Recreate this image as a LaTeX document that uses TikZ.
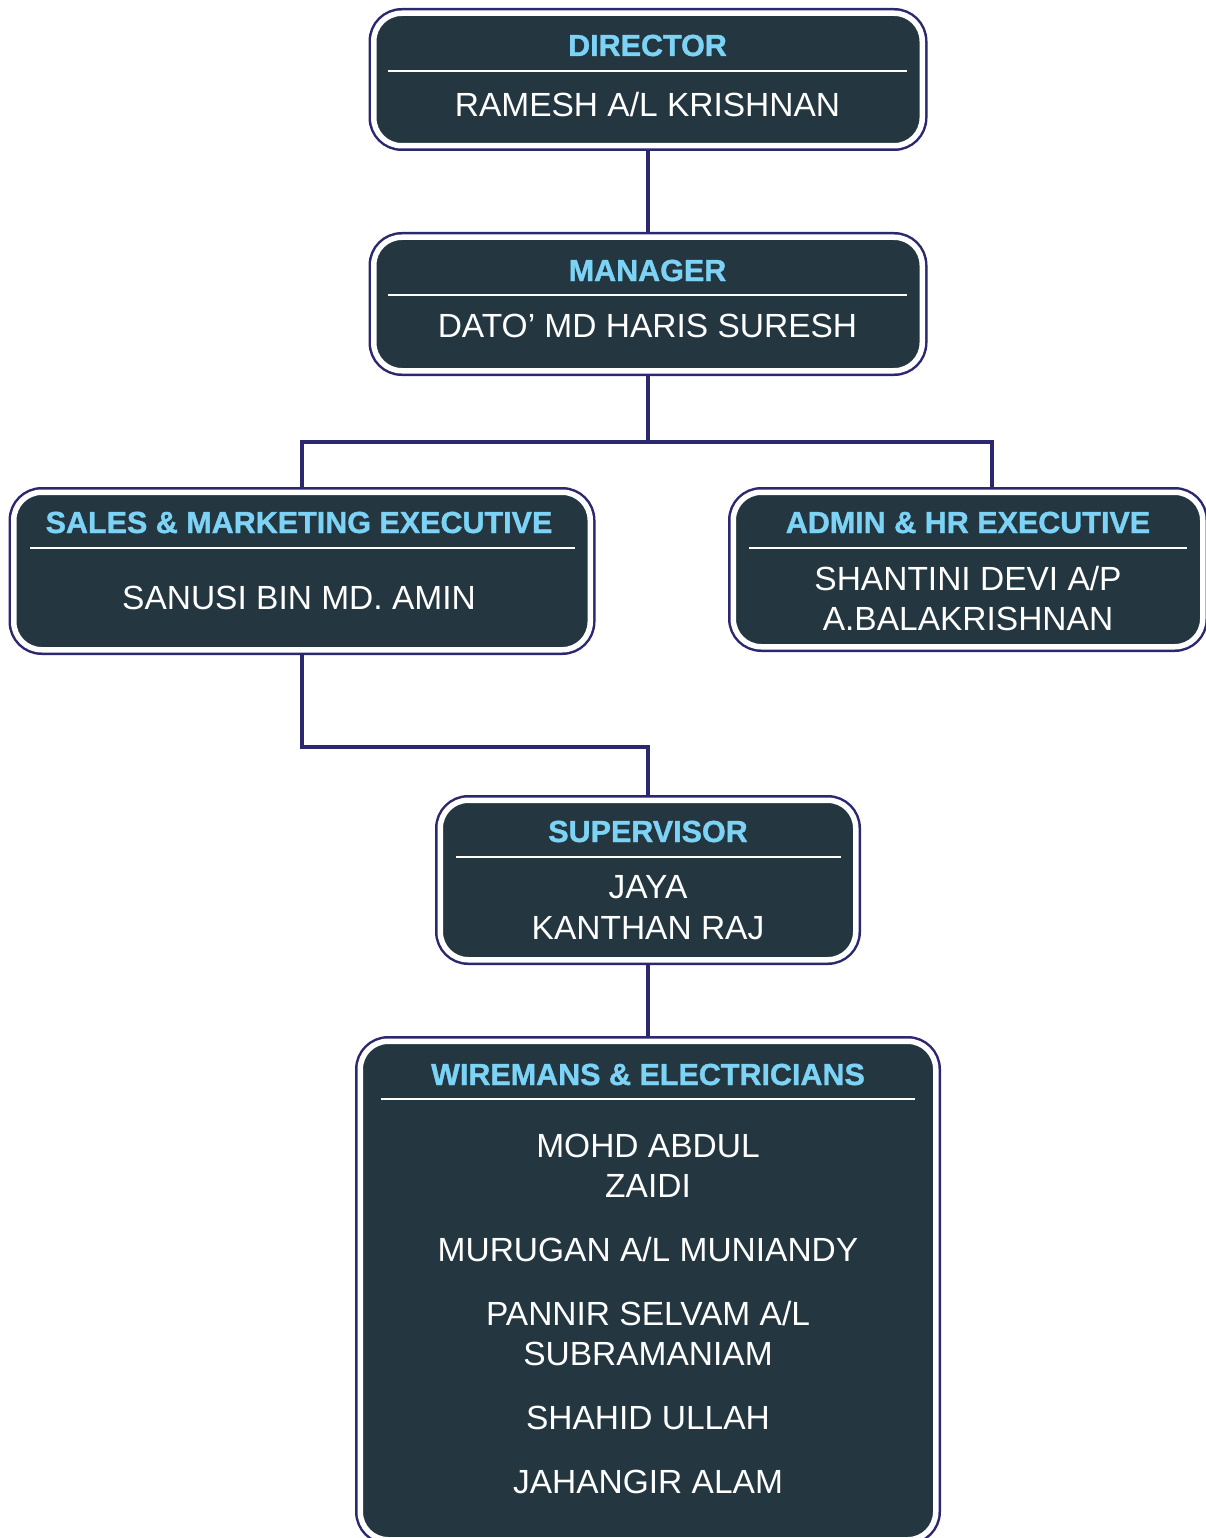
\documentclass[tikz,border=0pt]{standalone}
\usepackage{fontspec}
\setmainfont{Liberation Sans}
\newfontfamily\titlefont[FakeBold=1.2]{Liberation Sans Bold}
\usetikzlibrary{backgrounds}
\definecolor{boxfill}{HTML}{243740}
\definecolor{navy}{HTML}{2C2870}
\definecolor{titleblue}{HTML}{7DD3F6}
\tikzset{
  orgbox/.style={draw=white, line width=5.5pt, fill=boxfill, rounded corners=28pt,
    preaction={draw=navy, line width=10.5pt, rounded corners=28pt},
    inner sep=0pt, outer sep=0pt},
  ttl/.style={anchor=base, text=titleblue, font=\titlefont\fontsize{30.5}{36}\selectfont, inner sep=0pt},
  nm/.style={anchor=base, text=white, font=\fontsize{33.5}{40}\selectfont, inner sep=0pt},
  sep/.style={draw=white, line width=2pt},
  conn/.style={draw=navy, line width=4pt, line join=miter}
}
\begin{document}
\begin{tikzpicture}[x=1pt,y=-1pt]
\useasboundingbox (0,0) rectangle (1206,1538);
% boxes
\node[orgbox, minimum width=548.5pt, minimum height=132.5pt] (dir) at (648,79.5) {};
\node[orgbox, minimum width=548.5pt, minimum height=133.5pt] (man) at (648,304) {};
\node[orgbox, minimum width=576.5pt, minimum height=157.5pt] (sal) at (302,571) {};
\node[orgbox, minimum width=469.5pt, minimum height=154.5pt] (adm) at (968,569.5) {};
\node[orgbox, minimum width=415.5pt, minimum height=159.5pt] (sup) at (648,880) {};
\node[orgbox, minimum width=575.5pt, minimum height=498.5pt] (wir) at (648,1290.5) {};
% connectors
\coordinate (j1) at (648,442);
\coordinate (a1) at (992,442);
\coordinate (s1) at (302,747);
\coordinate (s2) at (648,747);
\begin{pgfonlayer}{background}
\draw[conn] (dir.south) -- (man.north);
\draw[conn] (man.south) -- (j1);
\draw[conn] (j1) -| (sal.north);
\draw[conn] (j1) -- (a1) -- (a1 |- adm.north);
\draw[conn] (sal.south) -- (s1) -- (s2) -- (sup.north);
\draw[conn] (sup.south) -- (wir.north);
\end{pgfonlayer}
% separators
\coordinate (d1) at (388,71); \coordinate (d2) at (907,71);
\draw[sep] (d1) -- (d2);
\coordinate (m1) at (388,295); \coordinate (m2) at (907,295);
\draw[sep] (m1) -- (m2);
\coordinate (sl1) at (30,548); \coordinate (sl2) at (575,548);
\draw[sep] (sl1) -- (sl2);
\coordinate (ad1) at (749,548); \coordinate (ad2) at (1187,548);
\draw[sep] (ad1) -- (ad2);
\coordinate (su1) at (456,857); \coordinate (su2) at (841,857);
\draw[sep] (su1) -- (su2);
\coordinate (w1) at (381,1099); \coordinate (w2) at (915,1099);
\draw[sep] (w1) -- (w2);
% texts
\node[ttl] (tdir) at (647.5,56) {DIRECTOR};
\node[nm] (ndir) at (647.5,117) {RAMESH A/L KRISHNAN};
\node[ttl] (tman) at (647.5,281) {MANAGER};
\node[nm] (nman) at (647.5,337) {DATO’ MD HARIS SURESH};
\node[ttl] (tsal) at (299,533) {SALES \& MARKETING EXECUTIVE};
\node[nm] (nsal) at (299,609) {SANUSI BIN MD. AMIN};
\node[ttl] (tadm) at (968,533) {ADMIN \& HR EXECUTIVE};
\node[nm] (nadm1) at (968,590) {SHANTINI DEVI A/P};
\node[nm] (nadm2) at (968,630) {A.BALAKRISHNAN};
\node[ttl] (tsup) at (648,842) {SUPERVISOR};
\node[nm] (nsup1) at (648,898) {JAYA};
\node[nm] (nsup2) at (648,939) {KANTHAN RAJ};
\node[ttl] (twir) at (648,1085) {WIREMANS \& ELECTRICIANS};
\node[nm] (nw1) at (648,1157) {MOHD ABDUL};
\node[nm] (nw2) at (648,1197) {ZAIDI};
\node[nm] (nw3) at (648,1261) {MURUGAN A/L MUNIANDY};
\node[nm] (nw4) at (648,1325) {PANNIR SELVAM A/L};
\node[nm] (nw5) at (648,1365) {SUBRAMANIAM};
\node[nm] (nw6) at (648,1429) {SHAHID ULLAH};
\node[nm] (nw7) at (648,1493) {JAHANGIR ALAM};
\end{tikzpicture}
\end{document}
